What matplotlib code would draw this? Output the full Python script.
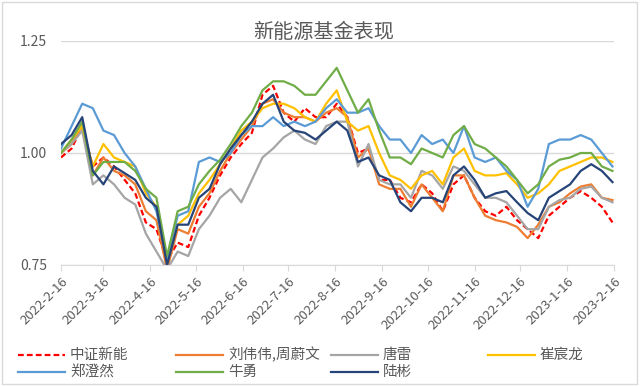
import matplotlib
matplotlib.use("Agg")
import matplotlib.pyplot as plt
import pandas as pd
from matplotlib.lines import Line2D
from matplotlib.patches import Rectangle

plt.rcParams['font.family'] = ['Noto Sans CJK SC', 'DejaVu Sans']

# weekly samples
dates = pd.date_range('2022-02-16', periods=53, freq='7D')

tick_labels = ['2022-2-16', '2022-3-16', '2022-4-16', '2022-5-16', '2022-6-16', '2022-7-16',
               '2022-8-16', '2022-9-16', '2022-10-16', '2022-11-16', '2022-12-16', '2023-1-16',
               '2023-2-16']

names = ['中证新能', '刘伟伟,周蔚文', '唐雷', '崔宸龙', '郑澄然', '牛勇', '陆彬']

zz_xn = [0.99, 1.01, 1.06, 0.97, 0.99, 0.97, 0.94, 0.91, 0.845, 0.83, 0.76, 0.80, 0.79, 0.86,
         0.90, 0.95, 0.99, 1.02, 1.045, 1.13, 1.15, 1.09, 1.07, 1.10, 1.08, 1.08, 1.11, 1.08,
         1.00, 1.01, 0.94, 0.94, 0.90, 0.89, 0.93, 0.91, 0.87, 0.93, 0.95, 0.90, 0.87, 0.86,
         0.88, 0.85, 0.83, 0.81, 0.86, 0.88, 0.90, 0.915, 0.90, 0.88, 0.845]
liu_zhou = [1.00, 1.02, 1.06, 0.95, 0.99, 0.96, 0.95, 0.93, 0.87, 0.85, 0.74, 0.83, 0.82, 0.88,
            0.91, 0.96, 1.00, 1.03, 1.06, 1.11, 1.12, 1.09, 1.08, 1.08, 1.07, 1.09, 1.10, 1.08,
            0.99, 1.01, 0.93, 0.92, 0.92, 0.88, 0.93, 0.90, 0.87, 0.95, 0.95, 0.90, 0.86, 0.85,
            0.845, 0.835, 0.81, 0.84, 0.88, 0.89, 0.91, 0.925, 0.93, 0.90, 0.895]
tang_lei = [1.00, 1.02, 1.05, 0.93, 0.95, 0.93, 0.90, 0.885, 0.82, 0.78, 0.74, 0.78, 0.77, 0.83,
            0.86, 0.90, 0.92, 0.89, 0.94, 0.99, 1.01, 1.035, 1.05, 1.03, 1.02, 1.06, 1.07, 1.07,
            0.97, 1.02, 0.94, 0.93, 0.93, 0.90, 0.96, 0.95, 0.92, 0.97, 0.96, 0.93, 0.90, 0.90,
            0.89, 0.86, 0.83, 0.83, 0.88, 0.895, 0.90, 0.92, 0.925, 0.90, 0.89]
cui_cl = [1.00, 1.03, 1.06, 0.97, 1.02, 0.99, 0.98, 0.97, 0.91, 0.88, 0.76, 0.84, 0.86, 0.91,
          0.94, 0.975, 1.01, 1.05, 1.07, 1.10, 1.11, 1.11, 1.10, 1.08, 1.07, 1.11, 1.14, 1.07,
          1.05, 1.06, 1.00, 0.95, 0.94, 0.92, 0.95, 0.96, 0.93, 0.99, 1.01, 0.96, 0.95, 0.95,
          0.955, 0.93, 0.90, 0.91, 0.93, 0.96, 0.97, 0.98, 0.99, 0.99, 0.98]
zheng_cr = [1.01, 1.06, 1.11, 1.10, 1.05, 1.04, 1.00, 0.97, 0.92, 0.87, 0.76, 0.86, 0.87, 0.98,
            0.99, 0.98, 1.00, 1.04, 1.06, 1.06, 1.08, 1.06, 1.07, 1.06, 1.07, 1.10, 1.12, 1.09,
            1.09, 1.10, 1.06, 1.03, 1.03, 1.00, 1.04, 1.02, 1.03, 1.00, 1.06, 0.99, 0.98, 0.99,
            0.96, 0.94, 0.88, 0.92, 1.02, 1.03, 1.03, 1.04, 1.03, 1.00, 0.97]
niu_yong = [1.00, 1.03, 1.07, 0.95, 0.98, 0.98, 0.98, 0.96, 0.92, 0.90, 0.77, 0.87, 0.88, 0.93,
            0.96, 0.985, 1.02, 1.06, 1.09, 1.14, 1.16, 1.16, 1.15, 1.13, 1.13, 1.16, 1.19, 1.14,
            1.09, 1.12, 1.05, 0.99, 0.99, 0.975, 1.01, 1.00, 0.99, 1.04, 1.06, 1.02, 1.01, 0.99,
            0.97, 0.94, 0.91, 0.93, 0.97, 0.985, 0.99, 1.00, 1.00, 0.97, 0.96]
lu_bin = [1.02, 1.04, 1.08, 0.96, 0.93, 0.97, 0.955, 0.94, 0.90, 0.88, 0.75, 0.84, 0.84, 0.90,
          0.92, 0.975, 1.01, 1.04, 1.07, 1.11, 1.13, 1.07, 1.05, 1.045, 1.03, 1.05, 1.07, 1.05,
          0.98, 0.99, 0.95, 0.94, 0.89, 0.87, 0.90, 0.90, 0.89, 0.95, 0.97, 0.94, 0.90, 0.91,
          0.915, 0.89, 0.866, 0.85, 0.90, 0.915, 0.93, 0.96, 0.975, 0.96, 0.935]

series = [zz_xn, liu_zhou, tang_lei, cui_cl, zheng_cr, niu_yong, lu_bin]
colors = ['#FF0000', '#ED7D31', '#A5A5A5', '#FFC000', '#5B9BD5', '#70AD47', '#264478']
styles = ['--', '-', '-', '-', '-', '-', '-']

text_color = '#595959'
grid_color = '#D9D9D9'

fig = plt.figure(figsize=(6.4, 3.86), dpi=100)
fig.add_artist(Rectangle((0.003, 0.004), 0.992, 0.992, transform=fig.transFigure,
                         fill=False, edgecolor=grid_color, lw=1))
ax = fig.add_axes([61 / 640, 1 - 265 / 386, 553 / 640, 224 / 386])

for vals, c, ls in zip(series, colors, styles):
    line, = ax.plot(dates, vals, color=c, lw=1.6, ls=ls)
    if ls == '--':
        line.set_dashes((2.6, 1.4))

tick_dates = pd.to_datetime(tick_labels, format='%Y-%m-%d')
ax.set_xlim(tick_dates[0], tick_dates[-1])
ax.set_xticks(tick_dates)
ax.set_xticklabels(tick_labels, rotation=45, ha='right', va='top', rotation_mode='anchor',
                   fontsize=9.5, color=text_color)
ax.set_ylim(0.75, 1.25)
ax.set_yticks([0.75, 1.00, 1.25])
ax.set_yticklabels(['0.75', '1.00', '1.25'], fontsize=10, color=text_color)
ax.yaxis.grid(True, color=grid_color, lw=1)
ax.set_axisbelow(True)
for s in ['left', 'right', 'top']:
    ax.spines[s].set_visible(False)
ax.spines['bottom'].set_color(grid_color)
ax.tick_params(axis='y', length=0, pad=10)
ax.tick_params(axis='x', length=4, color=grid_color, pad=3)

fig.text(0.505, 1 - 32 / 386, '新能源基金表现', ha='center', va='center', fontsize=14.5,
         color=text_color)

# legend laid out like the Excel one: 4 fixed-width columns
col_x = [18, 176, 331, 488]
row_y = [355, 372]
for i, (name, c, ls) in enumerate(zip(names, colors, styles)):
    x0 = col_x[i % 4]
    y0 = 1 - row_y[i // 4] / 386
    handle = Line2D([x0 / 640, (x0 + 47) / 640], [y0, y0], transform=fig.transFigure,
                    color=c, lw=1.6, ls=ls)
    if ls == '--':
        handle.set_dashes((2.6, 1.4))
    fig.add_artist(handle)
    fig.text((x0 + 52) / 640, y0, name, ha='left', va='center', fontsize=10.5, color=text_color)

fig.savefig('out.png', dpi=100)
